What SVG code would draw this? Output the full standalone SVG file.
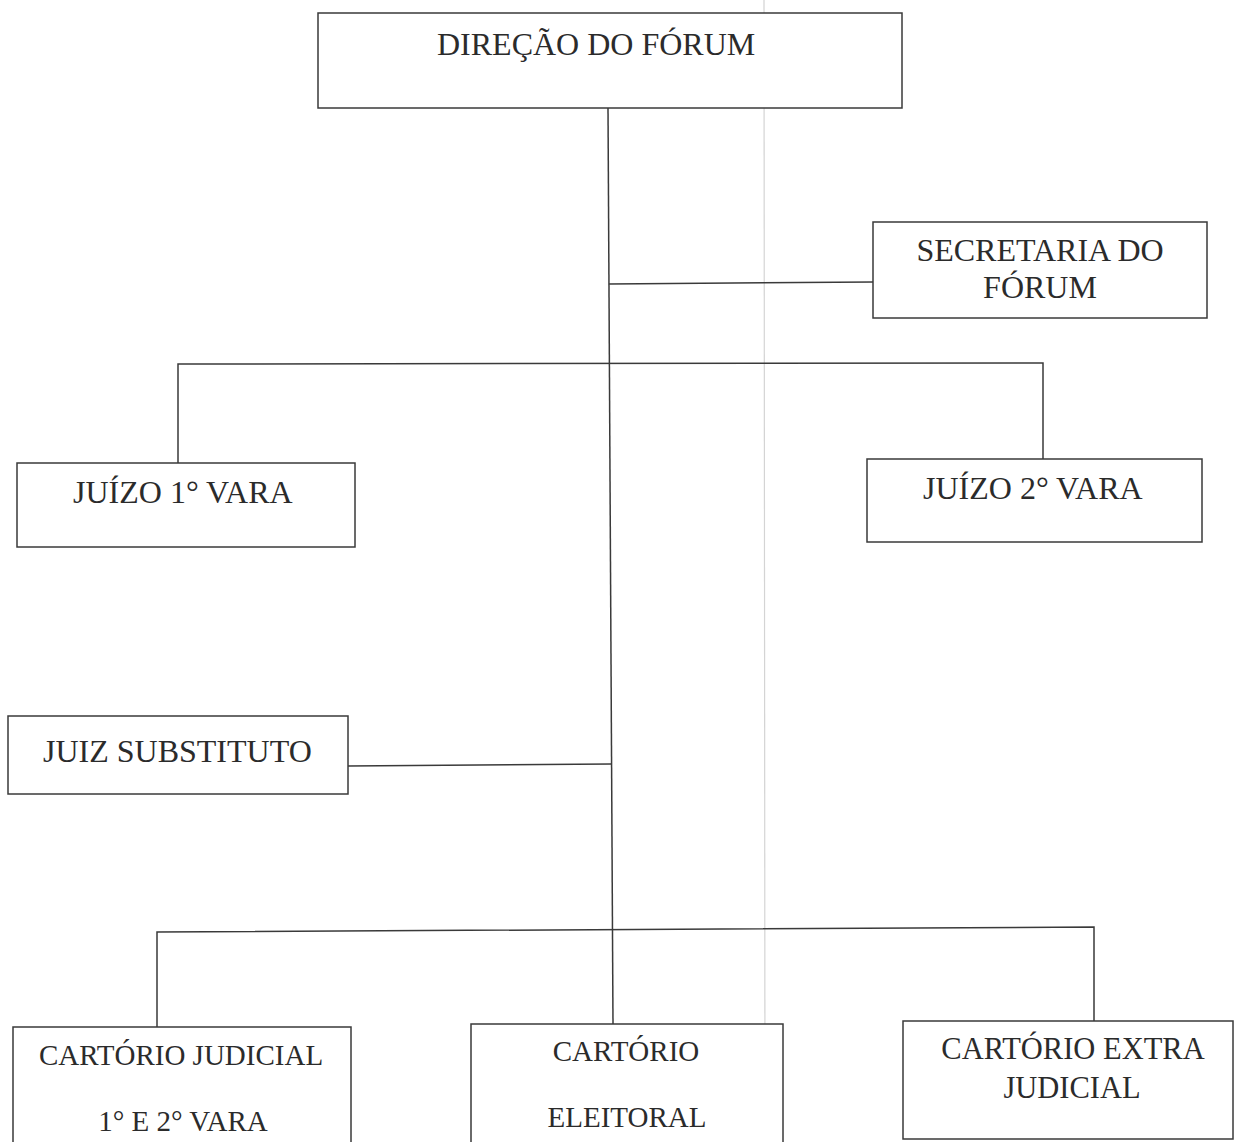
<svg xmlns="http://www.w3.org/2000/svg" width="1235" height="1142" viewBox="0 0 1235 1142">
  <style>
    .box { fill: #ffffff; stroke: #3a3a3a; stroke-width: 1.5; }
    .lbl { font-family: "Liberation Serif", "Times New Roman", serif; font-size: 32px; fill: #2b2b2b; }
    .sm { font-size: 29px; }
    .md { font-size: 30.5px; }
    .conn { fill: none; stroke: #3a3a3a; stroke-width: 1.5; }
    .fold { stroke: #d4d4d4; stroke-width: 1.2; }
  </style>
  <rect x="0" y="0" width="1235" height="1142" fill="#ffffff"/>
  <line class="fold" x1="764" y1="0" x2="765" y2="1142"/>

  <g id="connectors">
    <path class="conn" d="M608,108 L613,1024"/>
    <path class="conn" d="M609,284 L873,282"/>
    <path class="conn" d="M178,463 L178,364 L1043,363 L1043,459"/>
    <path class="conn" d="M348,766 L611,764"/>
    <path class="conn" d="M157,1027 L157,932 L1094,927 L1094,1021"/>
  </g>

  <g id="direcao">
    <rect class="box" x="318" y="13" width="584" height="95"/>
    <text class="lbl" x="437" y="55">DIREÇÃO DO FÓRUM</text>
  </g>

  <g id="secretaria">
    <rect class="box" x="873" y="222" width="334" height="96"/>
    <text class="lbl" x="1040" y="261" text-anchor="middle">SECRETARIA DO</text>
    <text class="lbl" x="1040" y="298" text-anchor="middle">FÓRUM</text>
  </g>

  <g id="juizo1">
    <rect class="box" x="17" y="463" width="338" height="84"/>
    <text class="lbl" x="73" y="503">JUÍZO 1° VARA</text>
  </g>

  <g id="juizo2">
    <rect class="box" x="867" y="459" width="335" height="83"/>
    <text class="lbl" x="923" y="499">JUÍZO 2° VARA</text>
  </g>

  <g id="juiz-substituto">
    <rect class="box" x="8" y="716" width="340" height="78"/>
    <text class="lbl" x="43" y="762">JUIZ SUBSTITUTO</text>
  </g>

  <g id="cartorio-judicial">
    <rect class="box" x="13" y="1027" width="338" height="130"/>
    <text class="lbl sm" x="181" y="1065" text-anchor="middle">CARTÓRIO JUDICIAL</text>
    <text class="lbl sm" x="183" y="1131" text-anchor="middle">1° E 2° VARA</text>
  </g>

  <g id="cartorio-eleitoral">
    <rect class="box" x="471" y="1024" width="312" height="130"/>
    <text class="lbl sm" x="626" y="1061" text-anchor="middle">CARTÓRIO</text>
    <text class="lbl sm" x="627" y="1127" text-anchor="middle">ELEITORAL</text>
  </g>

  <g id="cartorio-extra">
    <rect class="box" x="903" y="1021" width="330" height="118"/>
    <text class="lbl md" x="1073" y="1059" text-anchor="middle">CARTÓRIO EXTRA</text>
    <text class="lbl md" x="1072" y="1098" text-anchor="middle">JUDICIAL</text>
  </g>
</svg>
